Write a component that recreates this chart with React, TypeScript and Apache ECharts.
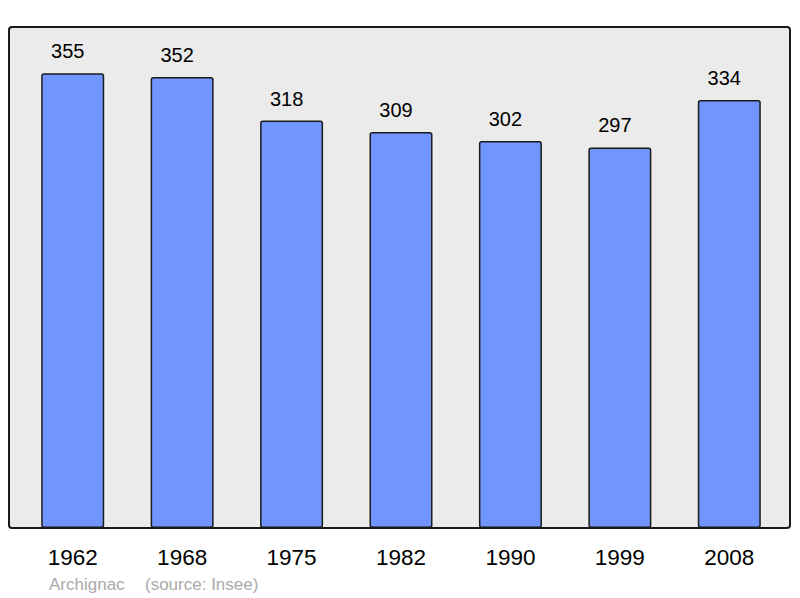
import React, { useEffect, useRef } from "react";
import * as echarts from "echarts";

const years = ["1962", "1968", "1975", "1982", "1990", "1999", "2008"];
const population = [355, 352, 318, 309, 302, 297, 334];
const townName = "Archignac";
const sourceText = "(source: Insee)";

const FONT = "Liberation Sans, Arial, sans-serif";

export default function App() {
  const ref = useRef<HTMLDivElement>(null);
  useEffect(() => {
    if (!ref.current) return;
    const chart = echarts.init(ref.current, null, { renderer: "svg" });
    chart.setOption({
      animation: false,
      textStyle: { fontFamily: FONT },
      grid: { left: 18, right: 16, top: 27, bottom: 70 },
      xAxis: {
        type: "category",
        data: years,
        axisLine: { show: false },
        axisTick: { show: false },
        axisLabel: { color: "#000", fontSize: 22.5, margin: 18, fontFamily: FONT },
      },
      yAxis: { type: "value", min: 0, max: 391, show: false, splitLine: { show: false } },
      graphic: [
        {
          type: "rect",
          z: -10,
          shape: { x: 9, y: 27, width: 781, height: 501, r: 3 },
          style: { fill: "#ebebeb", stroke: "#1a1a1a", lineWidth: 2 },
        },
        {
          type: "text",
          left: 49,
          top: 576,
          style: { text: townName, fill: "#aaaaaa", fontSize: 17, fontFamily: FONT },
        },
        {
          type: "text",
          left: 145,
          top: 576,
          style: { text: sourceText, fill: "#aaaaaa", fontSize: 17, fontFamily: FONT },
        },
      ],
      series: [
        {
          type: "bar",
          data: population,
          barWidth: 63,
          itemStyle: { color: "#7095ff", borderColor: "#1a1a1a", borderWidth: 1.5, borderRadius: 2 },
          label: {
            show: true,
            position: "top",
            distance: 12,
            offset: [-5, 0],
            color: "#000",
            fontSize: 20,
            fontFamily: FONT,
          },
        },
      ],
    });
    return () => chart.dispose();
  }, []);
  return <div ref={ref} style={{ width: 800, height: 598, position: "absolute", left: 0, top: 0 }} />;
}
